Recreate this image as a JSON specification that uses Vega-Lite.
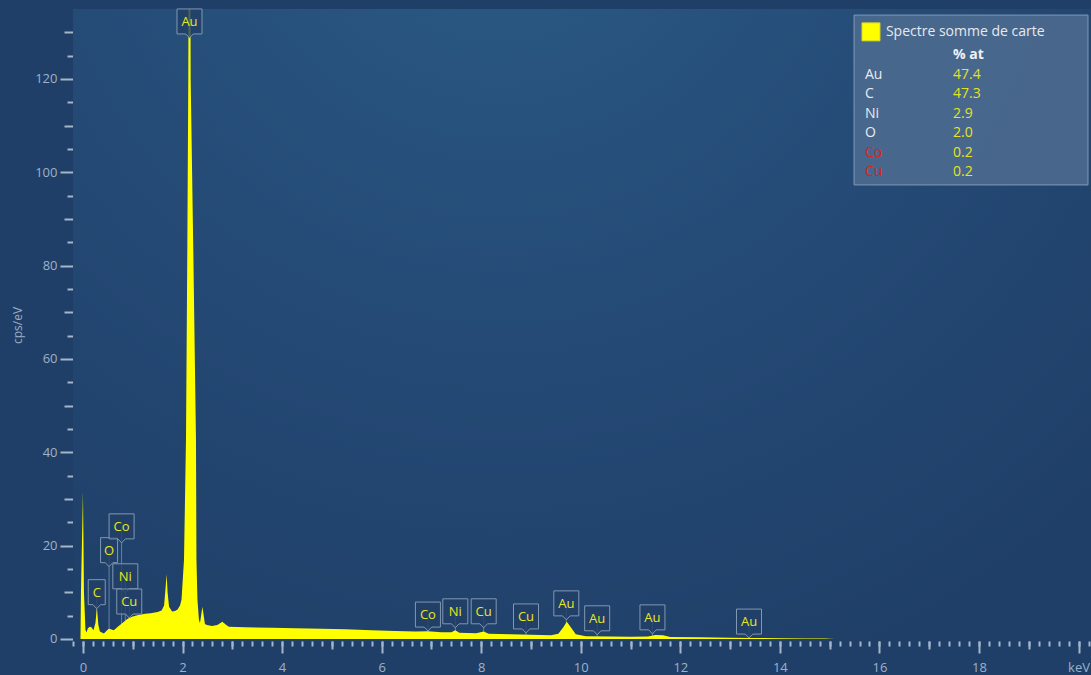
{
  "$schema": "https://vega.github.io/schema/vega-lite/v6.json",
  "width": 1018,
  "height": 632,
  "autosize": {"type": "none"},
  "padding": {"left": 73, "top": 9, "right": 0, "bottom": 34},
  "background": "#1f3f68",
  "config": {"view": {"stroke": null}, "font": "Open Sans"},
  "datasets": {
    "spectrum": [
      {"keV": -0.05, "cps": 0}, {"keV": -0.04, "cps": 10}, {"keV": 0.0, "cps": 31.6}, {"keV": 0.02, "cps": 10},
      {"keV": 0.05, "cps": 2.0}, {"keV": 0.07, "cps": 1.4}, {"keV": 0.10, "cps": 2.3}, {"keV": 0.14, "cps": 2.6},
      {"keV": 0.17, "cps": 2.5}, {"keV": 0.21, "cps": 1.9}, {"keV": 0.25, "cps": 3.4}, {"keV": 0.28, "cps": 6.6},
      {"keV": 0.31, "cps": 3.0}, {"keV": 0.34, "cps": 1.6}, {"keV": 0.42, "cps": 1.2}, {"keV": 0.48, "cps": 1.8},
      {"keV": 0.52, "cps": 2.2}, {"keV": 0.56, "cps": 2.1}, {"keV": 0.62, "cps": 1.9}, {"keV": 0.70, "cps": 2.6},
      {"keV": 0.78, "cps": 3.3}, {"keV": 0.89, "cps": 4.3}, {"keV": 1.00, "cps": 4.8}, {"keV": 1.09, "cps": 5.1},
      {"keV": 1.25, "cps": 5.4}, {"keV": 1.36, "cps": 5.5}, {"keV": 1.50, "cps": 5.8}, {"keV": 1.58, "cps": 6.1},
      {"keV": 1.63, "cps": 7.2}, {"keV": 1.66, "cps": 11.0}, {"keV": 1.68, "cps": 13.9}, {"keV": 1.70, "cps": 10.0},
      {"keV": 1.73, "cps": 6.9}, {"keV": 1.79, "cps": 5.9}, {"keV": 1.85, "cps": 6.0}, {"keV": 1.90, "cps": 6.3},
      {"keV": 1.95, "cps": 7.2}, {"keV": 1.98, "cps": 8.4}, {"keV": 2.03, "cps": 17}, {"keV": 2.07, "cps": 43},
      {"keV": 2.096, "cps": 83}, {"keV": 2.116, "cps": 120}, {"keV": 2.14, "cps": 200}, {"keV": 2.164, "cps": 120},
      {"keV": 2.217, "cps": 83}, {"keV": 2.27, "cps": 43}, {"keV": 2.28, "cps": 17}, {"keV": 2.30, "cps": 8.4},
      {"keV": 2.33, "cps": 4.1}, {"keV": 2.35, "cps": 3.4}, {"keV": 2.40, "cps": 6.9}, {"keV": 2.45, "cps": 3.2},
      {"keV": 2.49, "cps": 3.0}, {"keV": 2.59, "cps": 2.8}, {"keV": 2.70, "cps": 3.0}, {"keV": 2.80, "cps": 3.7},
      {"keV": 2.88, "cps": 3.0}, {"keV": 2.93, "cps": 2.6}, {"keV": 3.26, "cps": 2.5}, {"keV": 3.8, "cps": 2.4},
      {"keV": 4.27, "cps": 2.3}, {"keV": 4.8, "cps": 2.2}, {"keV": 5.27, "cps": 2.1}, {"keV": 5.8, "cps": 1.9},
      {"keV": 6.27, "cps": 1.7}, {"keV": 6.68, "cps": 1.6}, {"keV": 6.93, "cps": 1.65}, {"keV": 7.2, "cps": 1.45},
      {"keV": 7.40, "cps": 1.45}, {"keV": 7.48, "cps": 1.9}, {"keV": 7.56, "cps": 1.35}, {"keV": 7.9, "cps": 1.25},
      {"keV": 8.05, "cps": 1.6}, {"keV": 8.15, "cps": 1.15}, {"keV": 8.6, "cps": 1.0}, {"keV": 9.0, "cps": 0.9},
      {"keV": 9.4, "cps": 0.8}, {"keV": 9.55, "cps": 1.1}, {"keV": 9.65, "cps": 2.5}, {"keV": 9.72, "cps": 3.7},
      {"keV": 9.80, "cps": 2.5}, {"keV": 9.90, "cps": 1.0}, {"keV": 10.1, "cps": 0.6}, {"keV": 10.6, "cps": 0.55},
      {"keV": 11.0, "cps": 0.5}, {"keV": 11.35, "cps": 0.55}, {"keV": 11.5, "cps": 0.85}, {"keV": 11.65, "cps": 0.8},
      {"keV": 11.8, "cps": 0.45}, {"keV": 12.4, "cps": 0.35}, {"keV": 13.0, "cps": 0.25}, {"keV": 13.4, "cps": 0.22},
      {"keV": 14.0, "cps": 0.15}, {"keV": 14.5, "cps": 0.12}, {"keV": 14.9, "cps": 0.08}, {"keV": 15.0, "cps": 0.03},
      {"keV": 15.1, "cps": 0}
    ],
    "peaks": [
      {"el": "Au", "e": 2.14, "h": 132.2},
      {"el": "C", "e": 0.277, "h": 9.9},
      {"el": "O", "e": 0.525, "h": 18.9},
      {"el": "Co", "e": 0.776, "h": 24.0},
      {"el": "Ni", "e": 0.851, "h": 13.3},
      {"el": "Cu", "e": 0.93, "h": 7.9},
      {"el": "Co", "e": 6.93, "h": 5.1},
      {"el": "Ni", "e": 7.48, "h": 5.8},
      {"el": "Cu", "e": 8.05, "h": 5.8},
      {"el": "Cu", "e": 8.9, "h": 4.7},
      {"el": "Au", "e": 9.71, "h": 7.5},
      {"el": "Au", "e": 10.33, "h": 4.3},
      {"el": "Au", "e": 11.44, "h": 4.5},
      {"el": "Au", "e": 13.38, "h": 3.6}
    ],
    "composition": [
      {"el": "Au", "pct": 47.4},
      {"el": "C", "pct": 47.3},
      {"el": "Ni", "pct": 2.9},
      {"el": "O", "pct": 2.0},
      {"el": "Co", "pct": 0.2},
      {"el": "Cu", "pct": 0.2}
    ]
  },
  "resolve": {"axis": {"x": "independent", "y": "independent"}},
  "layer": [
    {
      "data": {"values": [{}]},
      "mark": {
        "type": "rect",
        "color": {
          "gradient": "radial",
          "x1": 0.42, "y1": 0.05, "r1": 0,
          "x2": 0.42, "y2": 0.05, "r2": 0.85,
          "stops": [
            {"offset": 0, "color": "#2b5b87"},
            {"offset": 0.55, "color": "#244a75"},
            {"offset": 1, "color": "#1f3f68"}
          ]
        }
      }
    },
    {
      "data": {"name": "peaks"},
      "mark": {"type": "rule", "color": "#a3b6cc", "opacity": 0.55, "strokeWidth": 1},
      "encoding": {
        "x": {"field": "e", "type": "quantitative", "scale": {"domain": [-0.2, 20.25], "nice": false, "zero": false},
          "axis": {"orient": "bottom", "title": null, "tickCount": 100, "labels": false, "domain": false, "grid": false, "tickSize": 5, "tickWidth": 2, "tickColor": "#a7b7cb"}},
        "y": {"field": "h", "type": "quantitative", "scale": {"domain": [-0.43, 135], "nice": false, "zero": false},
          "axis": {"orient": "left", "title": null, "values": [5, 15, 25, 35, 45, 55, 65, 75, 85, 95, 105, 115, 125], "labels": false, "domain": false, "grid": false, "tickSize": 6, "tickWidth": 2, "tickColor": "#a7b7cb"}},
        "y2": {"datum": 0}
      }
    },
    {
      "data": {"name": "spectrum"},
      "mark": {"type": "area", "color": "#ffff00", "opacity": 1, "clip": true},
      "encoding": {
        "x": {
          "field": "keV", "type": "quantitative",
          "scale": {"domain": [-0.2, 20.25], "nice": false, "zero": false},
          "axis": {
            "orient": "bottom",
            "title": null,
            "values": [0, 2, 4, 6, 8, 10, 12, 14, 16, 18, 20],
            "domain": false,
            "grid": false,
            "labelOverlap": false,
            "labelFlush": false,
            "labelExpr": "datum.value == 20 ? 'keV' : datum.label",
            "tickSize": 12,
            "tickWidth": 2,
            "tickColor": "#a7b7cb",
            "labelColor": "#9fb1c6",
            "labelFontSize": 13,
            "labelFont": "Open Sans",
            "labelPadding": 8
          }
        },
        "y": {
          "field": "cps", "type": "quantitative",
          "scale": {"domain": [-0.43, 135], "nice": false, "zero": false},
          "axis": {
            "orient": "left",
            "title": "cps/eV",
            "titleColor": "#9aaec4",
            "titleFont": "Open Sans",
            "titleFontSize": 12,
            "titleFontWeight": "normal",
            "titlePadding": 10,
            "values": [0, 20, 40, 60, 80, 100, 120],
            "tickSize": 13,
            "tickWidth": 2,
            "tickColor": "#a7b7cb",
            "domain": false,
            "grid": false,
            "labelColor": "#9fb1c6",
            "labelFontSize": 13,
            "labelFont": "Open Sans",
            "labelPadding": 3
          }
        }
      }
    },
    {
      "data": {"name": "peaks"},
      "mark": {"type": "point", "filled": true, "fill": "#223f66", "fillOpacity": 0.8, "stroke": "#8198b2", "strokeWidth": 1, "size": 625, "opacity": 1},
      "encoding": {
        "x": {"field": "e", "type": "quantitative", "scale": {"domain": [-0.2, 20.25], "nice": false, "zero": false},
          "axis": {"orient": "bottom", "title": null, "values": [1, 3, 5, 7, 9, 11, 13, 15, 17, 19], "labels": false, "domain": false, "grid": false, "tickSize": 8, "tickWidth": 2, "tickColor": "#a7b7cb"}},
        "y": {"field": "h", "type": "quantitative", "scale": {"domain": [-0.43, 135], "nice": false, "zero": false},
          "axis": {"orient": "left", "title": null, "values": [10, 30, 50, 70, 90, 110, 130], "labels": false, "domain": false, "grid": false, "tickSize": 9, "tickWidth": 2, "tickColor": "#a7b7cb"}},
        "shape": {
          "condition": {"test": "length(datum.el) == 1", "value": "M-0.68,-1.05H0.68V0.95H0.3L0,1.27L-0.3,0.95H-0.68Z"},
          "value": "M-1,-1.05H1V0.95H0.3L0,1.27L-0.3,0.95H-1Z"
        }
      }
    },
    {
      "data": {"name": "peaks"},
      "mark": {"type": "text", "color": "#e8e820", "fontSize": 13, "font": "Open Sans", "align": "center", "baseline": "middle"},
      "encoding": {
        "x": {"field": "e", "type": "quantitative", "scale": {"domain": [-0.2, 20.25], "nice": false, "zero": false}, "axis": null},
        "y": {"field": "h", "type": "quantitative", "scale": {"domain": [-0.43, 135], "nice": false, "zero": false}, "axis": null},
        "text": {"field": "el"}
      }
    },
    {
      "data": {"values": [{}]},
      "mark": {"type": "rect", "fill": "#4d6b8f", "fillOpacity": 0.88, "stroke": "#8199b4", "strokeWidth": 1},
      "encoding": {
        "x": {"datum": 15.49, "type": "quantitative", "scale": {"domain": [-0.2, 20.25], "nice": false, "zero": false}, "axis": null},
        "x2": {"datum": 20.19},
        "y": {"datum": 133.7, "type": "quantitative", "scale": {"domain": [-0.43, 135], "nice": false, "zero": false}, "axis": null},
        "y2": {"datum": 97.3}
      }
    },
    {
      "data": {"values": [{}]},
      "mark": {"type": "point", "shape": "square", "filled": true, "fill": "#ffff00", "stroke": "#d6d62a", "strokeWidth": 1, "size": 324, "opacity": 1},
      "encoding": {
        "x": {"datum": 15.83, "type": "quantitative", "scale": {"domain": [-0.2, 20.25], "nice": false, "zero": false}, "axis": null},
        "y": {"datum": 130.1, "type": "quantitative", "scale": {"domain": [-0.43, 135], "nice": false, "zero": false}, "axis": null}
      }
    },
    {
      "data": {"values": [{}]},
      "mark": {"type": "text", "text": "Spectre somme de carte", "color": "#e6eaf0", "fontSize": 14, "font": "Open Sans", "align": "left", "baseline": "middle"},
      "encoding": {
        "x": {"datum": 16.13, "type": "quantitative", "scale": {"domain": [-0.2, 20.25], "nice": false, "zero": false}, "axis": null},
        "y": {"datum": 130.1, "type": "quantitative", "scale": {"domain": [-0.43, 135], "nice": false, "zero": false}, "axis": null}
      }
    },
    {
      "data": {"values": [{}]},
      "mark": {"type": "text", "text": "% at", "fontSize": 14, "fontWeight": "bold", "font": "Open Sans", "align": "left", "baseline": "middle", "color": "#eef1f5"},
      "encoding": {
        "x": {"datum": 17.48, "type": "quantitative", "scale": {"domain": [-0.2, 20.25], "nice": false, "zero": false}, "axis": null},
        "y": {"datum": 125.14, "type": "quantitative", "scale": {"domain": [-0.43, 135], "nice": false, "zero": false}, "axis": null}
      }
    },
    {
      "data": {"name": "composition"},
      "mark": {"type": "text", "fontSize": 14, "font": "Open Sans", "align": "left", "baseline": "middle"},
      "encoding": {
        "x": {"datum": 15.71, "type": "quantitative", "scale": {"domain": [-0.2, 20.25], "nice": false, "zero": false}, "axis": null},
        "y": {"datum": 120.96, "type": "quantitative", "scale": {"domain": [-0.43, 135], "nice": false, "zero": false}, "axis": null},
        "yOffset": {"field": "el", "type": "nominal", "scale": {"type": "point", "domain": ["Au", "C", "Ni", "O", "Co", "Cu"], "range": [0, 97.75], "padding": 0}},
        "text": {"field": "el"},
        "color": {"condition": {"test": "datum.el === 'Co' || datum.el === 'Cu'", "value": "#e01e1e"}, "value": "#e8ecf0"}
      }
    },
    {
      "data": {"name": "composition"},
      "mark": {"type": "text", "fontSize": 14, "font": "Open Sans", "align": "left", "baseline": "middle", "color": "#e4e41e"},
      "encoding": {
        "x": {"datum": 17.48, "type": "quantitative", "scale": {"domain": [-0.2, 20.25], "nice": false, "zero": false}, "axis": null},
        "y": {"datum": 120.96, "type": "quantitative", "scale": {"domain": [-0.43, 135], "nice": false, "zero": false}, "axis": null},
        "yOffset": {"field": "el", "type": "nominal", "scale": {"type": "point", "domain": ["Au", "C", "Ni", "O", "Co", "Cu"], "range": [0, 97.75], "padding": 0}},
        "text": {"field": "pct", "type": "quantitative", "format": ".1f"}
      }
    }
  ]
}
